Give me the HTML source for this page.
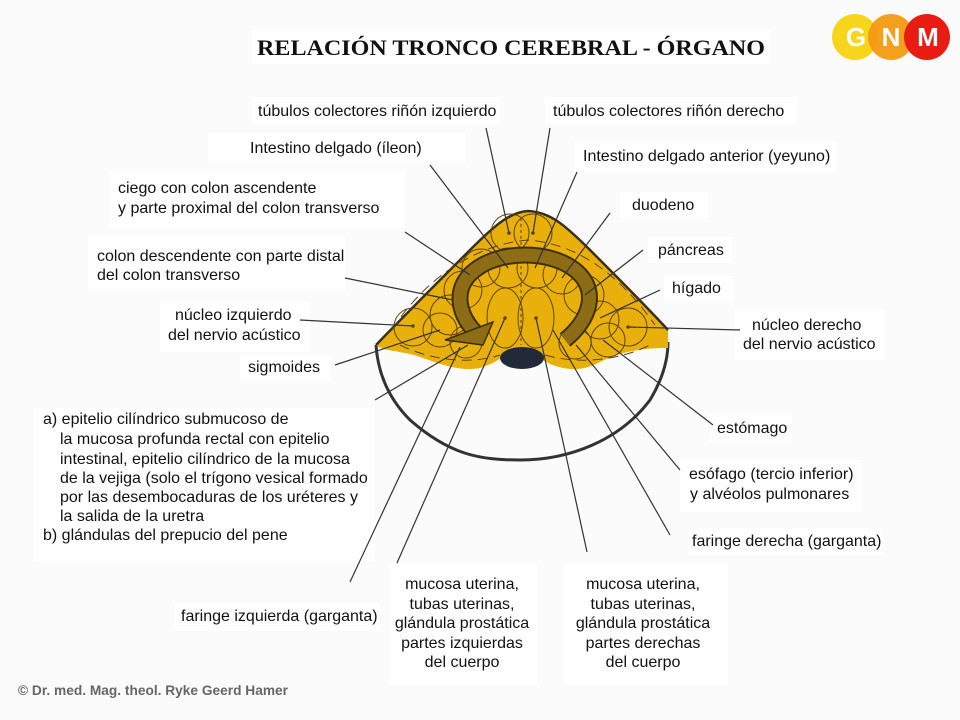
<!DOCTYPE html>
<html><head><meta charset="utf-8"><style>
body{margin:0;background:#fff;}
svg{display:block;font-family:"Liberation Sans",sans-serif;}
</style></head><body>
<svg width="960" height="720" viewBox="0 0 960 720" xmlns="http://www.w3.org/2000/svg">
<rect width="960" height="720" fill="#fbfbfb"/>
<g fill="#fff">
<rect x="252" y="30" width="518" height="34"/>
<rect x="252" y="97" width="248" height="27"/>
<rect x="545" y="97" width="252" height="27"/>
<rect x="208" y="133" width="257" height="29"/>
<rect x="575" y="142" width="262" height="30"/>
<rect x="110" y="170" width="295" height="58"/>
<rect x="620" y="192" width="88" height="26"/>
<rect x="88" y="236" width="257" height="54"/>
<rect x="648" y="237" width="84" height="26"/>
<rect x="664" y="276" width="70" height="26"/>
<rect x="160" y="302" width="150" height="50"/>
<rect x="735" y="310" width="150" height="50"/>
<rect x="240" y="356" width="90" height="26"/>
<rect x="33" y="408" width="342" height="154"/>
<rect x="710" y="414" width="82" height="28"/>
<rect x="680" y="460" width="182" height="52"/>
<rect x="688" y="528" width="194" height="27"/>
<rect x="175" y="603" width="205" height="28"/>
<rect x="390" y="564" width="147" height="121"/>
<rect x="563" y="564" width="165" height="121"/>
</g>
<path d="M376 345 C378 375 390 400 410 420 C450 455 480 460 520 460 C570 460 620 440 650 400 C662 380 668 360 668 342" fill="none" stroke="#333" stroke-width="3"/>
<path d="M376 345 C400 320 430 290 470 250 C495 225 510 212 528 211 C550 212 565 225 590 250 C620 280 645 305 668 330 L668 348 C640 348 620 352 600 362 C585 370 570 372 550 364 C540 358 530 352 520 352 C505 352 500 362 480 368 C460 372 440 364 420 357 C400 350 385 352 376 345 Z" fill="#e9b00c"/>
<path d="M376 345 C400 320 430 290 470 250 C495 225 510 212 528 211 C550 212 565 225 590 250 C620 280 645 305 668 330" fill="none" stroke="#3a3020" stroke-width="2.5"/>
<ellipse cx="522" cy="358" rx="22" ry="11" fill="#222a3a"/>
<g fill="none" stroke="#5a4510" stroke-width="1">
<circle cx="510" cy="233" r="19"/><circle cx="533" cy="233" r="19"/>
<circle cx="508" cy="268" r="20"/><circle cx="537" cy="268" r="20"/>
<circle cx="481" cy="268" r="19"/><circle cx="562" cy="275" r="19"/>
<circle cx="463" cy="290" r="19"/><circle cx="584" cy="295" r="20"/>
<circle cx="450" cy="315" r="20"/><circle cx="600" cy="320" r="19"/>
<circle cx="413" cy="327" r="19"/><circle cx="628" cy="327" r="19"/>
<circle cx="440" cy="330" r="17"/><circle cx="608" cy="340" r="17"/>
<circle cx="466" cy="342" r="16"/><circle cx="575" cy="343" r="16"/>
<ellipse cx="505" cy="318" rx="18" ry="30"/><ellipse cx="536" cy="318" rx="18" ry="30"/>
<path d="M521 218 L521 345" stroke-dasharray="3 3"/>
<path d="M392 330 C420 285 470 245 528 240 C590 245 630 290 655 325" stroke-dasharray="10 6"/>
<path d="M400 345 C430 360 470 365 500 355 M545 355 C580 365 620 360 650 345" stroke-dasharray="10 6"/>
</g>
<path d="M475 332 C455 310 455 285 475 270 C500 250 550 250 575 270 C600 290 590 320 565 340" fill="none" stroke="#3d300c" stroke-width="17"/>
<path d="M475 332 C455 310 455 285 475 270 C500 250 550 250 575 270 C600 290 590 320 565 340" fill="none" stroke="#8c6c14" stroke-width="13"/>
<polygon points="445,340 483,345 493,322" fill="#8c6c14" stroke="#3d300c" stroke-width="1.5"/>
<g stroke="#333" stroke-width="1.2" fill="none">
<path d="M486 128 L509 233"/><path d="M550 128 L533 233"/>
<path d="M430 165 L508 268"/><path d="M577 172 L535 268"/>
<path d="M405 232 L470 275"/><path d="M610 213 L562 278"/>
<path d="M345 278 L453 300"/><path d="M643 250 L585 295"/>
<path d="M660 290 L600 318"/><path d="M300 320 L413 326"/>
<path d="M740 330 L628 327"/><path d="M335 365 L440 330"/>
<path d="M375 400 L468 345"/><path d="M713 425 L603 340"/>
<path d="M680 470 L576 345"/><path d="M670 535 L553 330"/>
<path d="M350 582 L460 347"/><path d="M397 563 L505 318"/>
<path d="M587 552 L536 318"/>
</g>
<g fill="#5a4510"><circle cx="509" cy="233" r="1.8"/><circle cx="533" cy="233" r="1.8"/><circle cx="413" cy="326" r="1.8"/><circle cx="628" cy="327" r="1.8"/><circle cx="505" cy="318" r="1.8"/><circle cx="536" cy="318" r="1.8"/></g>
<text x="257" y="55" textLength="508" lengthAdjust="spacingAndGlyphs" font-family="Liberation Serif,serif" font-size="22" font-weight="bold" fill="#111">RELACIÓN TRONCO CEREBRAL - ÓRGANO</text>
<circle cx="855" cy="37" r="23" fill="#f7d51c"/><circle cx="891" cy="37" r="23" fill="#f39a12" opacity="0.95"/><circle cx="927" cy="37" r="23" fill="#e81c12"/>
<g font-weight="bold" font-size="26" fill="#fff" text-anchor="middle"><text x="856" y="46">G</text><text x="891" y="46">N</text><text x="928" y="46">M</text></g>
<g font-size="16" fill="#111">
<text x="258" y="116">túbulos colectores riñón izquierdo</text>
<text x="553" y="116">túbulos colectores riñón derecho</text>
<text x="250" y="153">Intestino delgado (íleon)</text>
<text x="583" y="161">Intestino delgado anterior (yeyuno)</text>
<text x="118" y="193">ciego con colon ascendente</text>
<text x="118" y="213">y parte proximal del colon transverso</text>
<text x="632" y="210">duodeno</text>
<text x="97" y="261">colon descendente con parte distal</text>
<text x="97" y="280">del colon transverso</text>
<text x="658" y="255">páncreas</text>
<text x="672" y="293">hígado</text>
<text x="175" y="320">núcleo izquierdo</text>
<text x="168" y="340">del nervio acústico</text>
<text x="752" y="330">núcleo derecho</text>
<text x="743" y="349">del nervio acústico</text>
<text x="248" y="372">sigmoides</text>
<text x="43" y="424">a) epitelio cilíndrico submucoso de</text>
<text x="60" y="444">la mucosa profunda rectal con epitelio</text>
<text x="60" y="464">intestinal, epitelio cilíndrico de la mucosa</text>
<text x="60" y="483">de la vejiga (solo el trígono vesical formado</text>
<text x="60" y="502">por las desembocaduras de los uréteres y</text>
<text x="60" y="521">la salida de la uretra</text>
<text x="43" y="540">b) glándulas del prepucio del pene</text>
<text x="717" y="433">estómago</text>
<text x="689" y="479">esófago (tercio inferior)</text>
<text x="690" y="499">y alvéolos pulmonares</text>
<text x="692" y="546">faringe derecha (garganta)</text>
<text x="181" y="621">faringe izquierda (garganta)</text>
<g text-anchor="middle">
<text x="462" y="589">mucosa uterina,</text><text x="462" y="609">tubas uterinas,</text><text x="462" y="628">glándula prostática</text><text x="462" y="648">partes izquierdas</text><text x="462" y="667">del cuerpo</text>
<text x="643" y="589">mucosa uterina,</text><text x="643" y="609">tubas uterinas,</text><text x="643" y="628">glándula prostática</text><text x="643" y="648">partes derechas</text><text x="643" y="667">del cuerpo</text>
</g>
</g>
<text x="18" y="695" font-size="14" font-weight="bold" fill="#666" textLength="270" lengthAdjust="spacingAndGlyphs">© Dr. med. Mag. theol. Ryke Geerd Hamer</text>
</svg>
</body></html>
